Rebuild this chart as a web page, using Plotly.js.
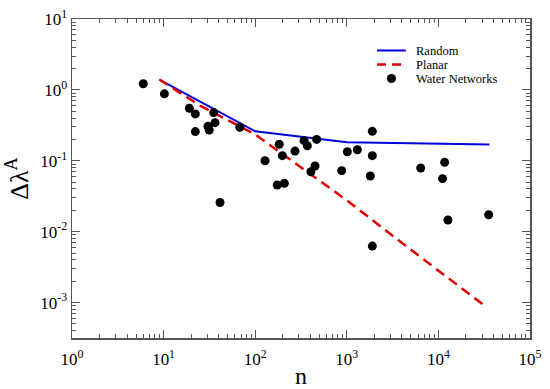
<!DOCTYPE html>
<html>
<head>
<meta charset="utf-8">
<script src="https://cdn.plot.ly/plotly-3.0.1.min.js"></script>
<style>html,body{margin:0;padding:0;background:#fff;} #chart{width:550px;height:389px;}</style>
</head>
<body>
<div id="chart"></div>
<script>
// Random model
const randomN = [9, 100, 1000, 10000, 36000];
const randomVal = [1.4, 0.26, 0.182, 0.173, 0.17];
// Planar model
const planarN = [9, 25, 100, 335, 1000, 3800, 10000, 34000];
const planarVal = [1.4, 0.6, 0.235, 0.0766, 0.0277, 0.0073, 0.00283, 0.00085];
// Water networks
const waterN = [6, 10.2, 19.1, 22.2, 22.2, 30.5, 31.5, 35.2, 36.4, 41.3,
  68, 128, 183, 198, 174, 208, 272, 341, 371, 469, 406, 450,
  880, 1013, 1304, 1900, 1900, 1806, 1900,
  6410, 11700, 11100, 12700, 35400];
const waterVal = [1.22, 0.88, 0.55, 0.458, 0.258, 0.306, 0.272, 0.478, 0.345, 0.0258,
  0.296, 0.100, 0.171, 0.118, 0.0455, 0.048, 0.137, 0.192, 0.163, 0.2, 0.070, 0.0845,
  0.0725, 0.134, 0.143, 0.26, 0.118, 0.061, 0.00626,
  0.079, 0.095, 0.056, 0.0146, 0.0173];
// Tick labels
const xTickVals = [1, 10, 100, 1000, 10000, 100000];
const xTickText = ['10<sup>0</sup>', '10<sup>1</sup>', '10<sup>2</sup>', '10<sup>3</sup>', '10<sup>4</sup>', '10<sup>5</sup>'];
const yTickVals = [0.001, 0.01, 0.1, 1, 10];
const yTickText = ['10<sup>-3</sup>', '10<sup>-2</sup>', '10<sup>-1</sup>', '10<sup>0</sup>', '10<sup>1</sup>'];
const legendNames = ['Random', 'Planar', 'Water Networks'];

const serif = 'Liberation Serif';
const axisCommon = {
  type: 'log',
  showgrid: false,
  zeroline: false,
  showline: true,
  linecolor: '#555',
  linewidth: 1.5,
  mirror: 'allticks',
  ticks: 'inside',
  ticklen: 8,
  tickwidth: 1,
  tickcolor: '#555',
  tickmode: 'array',
  tickfont: {family: serif, size: 17, color: '#000'},
  minor: {dtick: 'D1', ticks: 'inside', ticklen: 4, tickcolor: '#555', tickwidth: 1}
};

const data = [
  {x: randomN, y: randomVal, mode: 'lines', name: legendNames[0],
   line: {color: '#0000dd', width: 2}},
  {x: planarN, y: planarVal, mode: 'lines', name: legendNames[1],
   line: {color: '#e00000', width: 2.5, dash: '10px,6px'}},
  {x: waterN, y: waterVal, mode: 'markers', name: legendNames[2],
   marker: {color: '#000', size: 9}}
];

// custom legend (paper coordinates)
const legX0 = 0.666, legX1 = 0.729, legTextX = 0.748;
const legY = [0.9013, 0.8574, 0.8135];
const shapes = [
  {type: 'line', xref: 'paper', yref: 'paper', x0: legX0, x1: legX1, y0: legY[0], y1: legY[0],
   line: {color: '#0000dd', width: 2}},
  {type: 'line', xref: 'paper', yref: 'paper', x0: legX0, x1: legX1, y0: legY[1], y1: legY[1],
   line: {color: '#e00000', width: 2.5, dash: '9px,6px'}},
  {type: 'circle', xref: 'paper', yref: 'paper', xsizemode: 'pixel', ysizemode: 'pixel',
   xanchor: (legX0 + legX1) / 2, yanchor: legY[2], x0: -4.5, x1: 4.5, y0: -4.5, y1: 4.5,
   fillcolor: '#000', line: {color: '#000', width: 0}}
];
const annotations = legendNames.map((t, i) => ({
  text: t, xref: 'paper', yref: 'paper', x: legTextX, y: legY[i],
  xanchor: 'left', yanchor: 'middle', showarrow: false, height: 13, borderpad: 0,
  font: {family: serif, size: 12.5, color: '#000'}
}));

const layout = {
  width: 550, height: 389,
  margin: {l: 72, r: 20, t: 19, b: 51},
  paper_bgcolor: '#fff', plot_bgcolor: '#fff',
  showlegend: false,
  shapes: shapes,
  annotations: annotations,
  xaxis: Object.assign({}, axisCommon, {range: [0, 5], tickvals: xTickVals, ticktext: xTickText,
    ticklabelstandoff: 5,
    title: {text: 'n', font: {family: serif, size: 24, color: '#000'}, standoff: 0}}),
  yaxis: Object.assign({}, axisCommon, {range: [-3.5, 1], tickvals: yTickVals, ticktext: yTickText,
    title: {text: 'Δλ<sup>A</sup>', font: {family: serif, size: 26, color: '#000'}, standoff: 4}})
};

Plotly.newPlot('chart', data, layout, {displayModeBar: false, staticPlot: true});
</script>
</body>
</html>
